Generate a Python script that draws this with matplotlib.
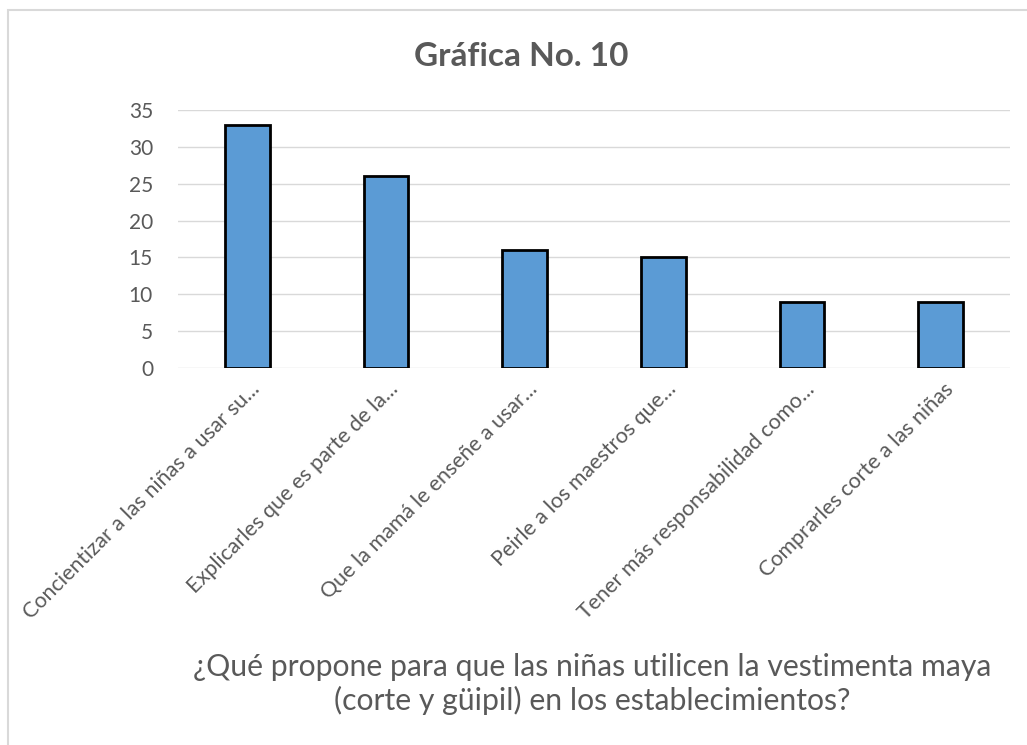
import matplotlib.pyplot as plt
from matplotlib.patches import Rectangle
from matplotlib.transforms import ScaledTranslation

# data
categorias = ["Concientizar a las niñas a usar su...",
              "Explicarles que es parte de la...",
              "Que la mamá le enseñe a usar...",
              "Peirle a los maestros que...",
              "Tener más responsabilidad como...",
              "Comprarles corte a las niñas"]
valores = [33, 26, 16, 15, 9, 9]
yticks = [0, 5, 10, 15, 20, 25, 30, 35]

plt.rcParams['font.family'] = ['Lato', 'DejaVu Sans']
gris = '#595959'

fig = plt.figure(figsize=(10.27, 7.45), dpi=100)
fig.patches.append(Rectangle((8/1027, -0.1), 1.1, 1 - 10/745 + 0.1, transform=fig.transFigure,
                             fill=False, edgecolor='#d9d9d9', linewidth=1.5))

ax = fig.add_axes([178/1027, 1 - 368/745, 832/1027, 258/745])
x = range(len(categorias))
ax.bar(x, valores, width=0.32, color='#5b9bd5', edgecolor='black', linewidth=2, zorder=3)

ax.set_ylim(0, 35)
ax.set_xlim(-0.5, len(categorias) - 0.5)
ax.set_yticks(yticks)
ax.yaxis.grid(True, color='#d9d9d9', linewidth=1, zorder=0)
for s in ax.spines.values():
    s.set_visible(False)
ax.tick_params(axis='both', length=0, colors=gris, labelsize=15)
ax.tick_params(axis='y', pad=18)
ax.set_xticks(list(x))
ax.set_xticklabels(categorias, rotation=45, ha='right', va='center_baseline',
                   rotation_mode='anchor', fontsize=15.5)
ax.tick_params(axis='x', pad=12)
offset = ScaledTranslation(8/100, 0, fig.dpi_scale_trans)
for lbl in ax.get_xticklabels():
    lbl.set_transform(lbl.get_transform() + offset)

fig.text(0.508, 1 - 57/745, "Gráfica No. 10", ha='center', va='center',
         fontsize=24, fontweight='bold', color=gris)
fig.text(0.577, 1 - 684/745,
         "¿Qué propone para que las niñas utilicen la vestimenta maya\n(corte y güipil) en los establecimientos?",
         ha='center', va='center', fontsize=21.7, color=gris, linespacing=1.2)

fig.savefig('out.png', dpi=100)
